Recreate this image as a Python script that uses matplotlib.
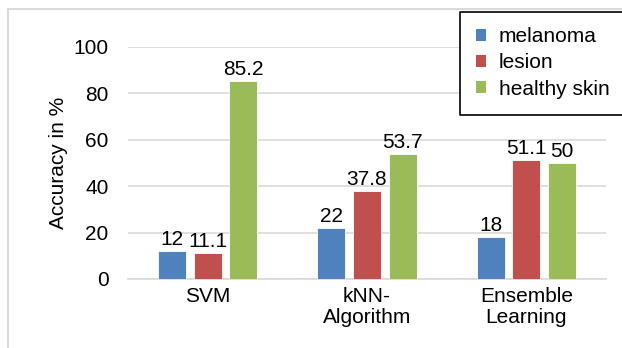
import matplotlib
matplotlib.use("Agg")
from matplotlib import pyplot as plt
from matplotlib.patches import Patch, Rectangle
from matplotlib.lines import Line2D
import numpy as np

plt.rcParams['font.family'] = ['Liberation Sans', 'DejaVu Sans']

methods = ["SVM", "kNN-\nAlgorithm", "Ensemble\nLearning"]
classes = ["melanoma", "lesion", "healthy skin"]
melanoma = [12, 22, 18]
lesion = [11.1, 37.8, 51.1]
healthy = [85.2, 53.7, 50]
labels = [["12", "22", "18"], ["11.1", "37.8", "51.1"], ["85.2", "53.7", "50"]]

colors = ["#4F81BD", "#C0504D", "#9BBB59"]
fs = 15

W, H = 622, 348
fig = plt.figure(figsize=(W / 100, H / 100), dpi=100)
ax = fig.add_axes([128 / W, 1 - 279 / H, 478 / W, 232 / H])

x = np.arange(len(methods))
width = 0.175
step = 0.224
for i, (vals, c) in enumerate(zip([melanoma, lesion, healthy], colors)):
    pos = x + (i - 1) * step
    bars = ax.bar(pos, vals, width, color=c, edgecolor="white", linewidth=0.6, zorder=3)
    for b, txt in zip(bars, labels[i]):
        ax.annotate(txt, (b.get_x() + b.get_width() / 2, b.get_height()),
                    xytext=(0, 1.5), textcoords="offset points",
                    ha="center", va="bottom", fontsize=fs, color="#000000")

ax.set_xlim(-0.5, 2.5)
ax.set_ylim(0, 100)
ax.set_yticks([0, 20, 40, 60, 80, 100])
ax.set_xticks(x)
ax.set_xticklabels(methods, fontsize=fs, linespacing=1.1)
ax.tick_params(axis="y", length=0, pad=14, labelsize=fs)
ax.tick_params(axis="x", length=0, pad=6)
ax.grid(axis="y", color="#d9d9d9", linewidth=1.2, zorder=0)
for s in ["top", "right", "left"]:
    ax.spines[s].set_visible(False)
ax.spines["bottom"].set_color("#d9d9d9")
ax.spines["bottom"].set_linewidth(1.2)
ax.set_ylabel("Accuracy in %", fontsize=fs, labelpad=4)

# outer chart frame (left and top edges only, the rest runs off the canvas)
fx, fy = 8 / W, 1 - 9 / H
fig.lines.append(Line2D([fx, fx, 1.0], [0.0, fy, fy], transform=fig.transFigure,
                        color="#d9d9d9", linewidth=1.5))

# legend box, open on the right side
lx, ly0, ly1 = 460 / W, 1 - 115 / H, 1 - 12 / H
fig.patches.append(Rectangle((lx, ly0), 1 - lx, ly1 - ly0, transform=fig.transFigure,
                             facecolor="white", edgecolor="none", zorder=5))
fig.lines.append(Line2D([1.0, lx, lx, 1.0], [ly1, ly1, ly0, ly0], transform=fig.transFigure,
                        color="black", linewidth=1.2, zorder=6))

handles = [Patch(facecolor=c) for c in colors]
leg = fig.legend(handles, classes, loc="upper left", bbox_to_anchor=(476 / W, 1 - 27 / H),
                 frameon=False, fontsize=fs, handlelength=0.5, handleheight=0.5,
                 handletextpad=0.6, labelspacing=0.35, borderpad=0, borderaxespad=0)
leg.set_zorder(7)

fig.savefig("out.png", dpi=100)
